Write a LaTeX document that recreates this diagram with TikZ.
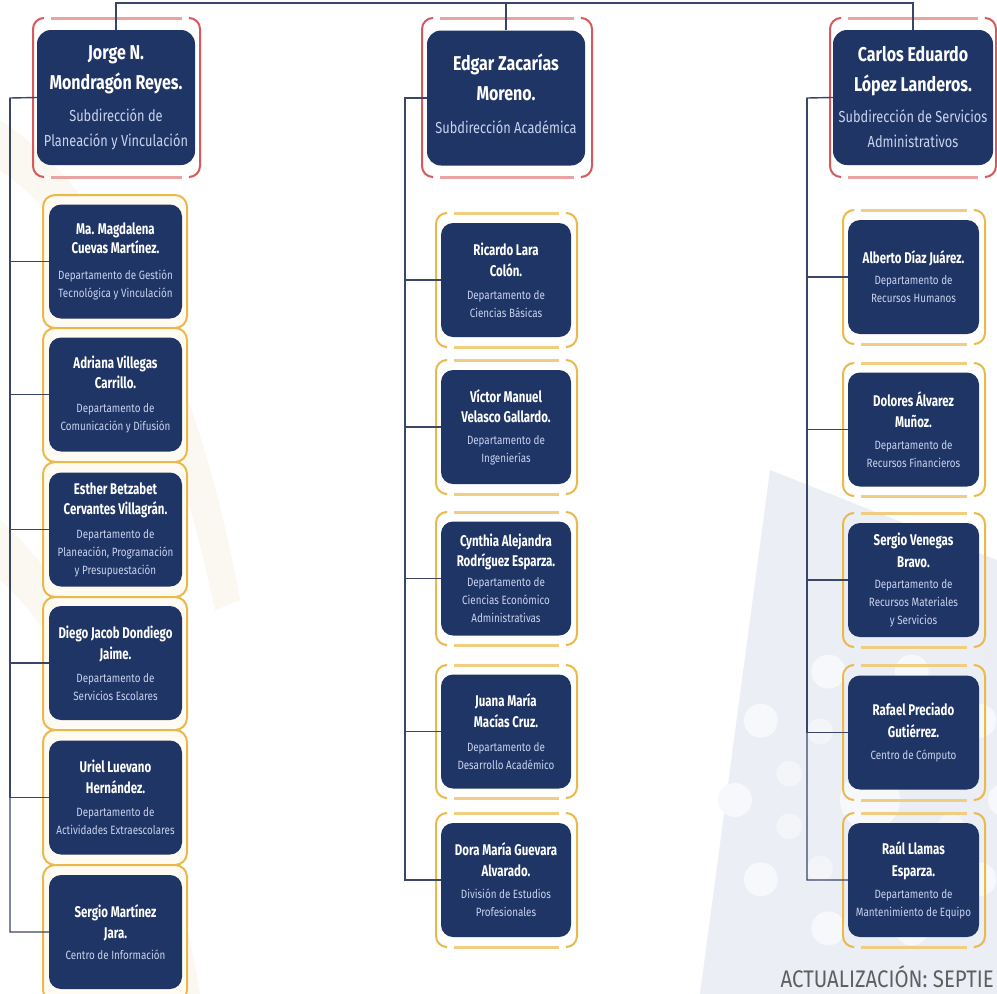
\documentclass[tikz,border=0pt]{standalone}
\usepackage{fontspec}
\usetikzlibrary{calc}
\setmainfont{Fira Sans}
\newfontfamily\hf{Fira Sans}[FakeStretch=0.8]
\newfontfamily\cfn{Fira Sans}[FakeStretch=0.74]
\newfontfamily\cfd{Fira Sans}[FakeStretch=0.82]
\newfontfamily\ftf{Fira Sans}[FakeStretch=0.85]
\definecolor{navy}{HTML}{1F3566}
\definecolor{deptc}{HTML}{C9D3EE}
\definecolor{redb}{HTML}{D45A5C}
\definecolor{redl}{HTML}{E8A3A3}
\definecolor{goldb}{HTML}{E9B94C}
\definecolor{goldl}{HTML}{F0CD80}
\definecolor{linec}{HTML}{3A4568}
\definecolor{bgblue}{HTML}{ECEEF5}
\definecolor{bgbeige}{HTML}{FBF8F1}
\definecolor{creamf}{HTML}{FFFBF3}
\definecolor{foot}{HTML}{5F5F5F}
\newcommand\hname[1]{{\color{white}\hf\bfseries\fontsize{20}{25}\selectfont #1}}
\newcommand\cname[1]{{\color{white}\cfn\bfseries\fontsize{15.5}{18}\selectfont #1}}
\newcommand\bframe[6]{%
 \draw[#5,line width=2pt,rounded corners=11pt] (#1+10,#2)--(#1,#2)--(#1,#4)--(#1+10,#4);
 \draw[#5,line width=2pt,rounded corners=11pt] (#3-10,#2)--(#3,#2)--(#3,#4)--(#3-10,#4);
 \draw[#6,line width=3pt] (#1+18,#2)--(#3-18,#2);
 \draw[#6,line width=3pt] (#1+18,#4)--(#3-18,#4);
}
\tikzset{
 headbox/.style={fill=navy, rounded corners=14pt, minimum width=158pt, minimum height=135pt,
   text=deptc, align=center, inner sep=0pt, font=\hf\fontsize{16}{25}\selectfont},
 childbox/.style={fill=navy, rounded corners=12pt, minimum width=131pt, minimum height=114pt,
   text=deptc, align=center, inner sep=0pt, font=\cfd\fontsize{12}{18}\selectfont},
 conn/.style={draw=linec, line width=1.4pt},
 lframe/.style={draw=goldb, fill=creamf, line width=2pt, rounded corners=12pt},
}
\begin{document}
\begin{tikzpicture}[x=1pt,y=-1pt]
\useasboundingbox (0,0) rectangle (997,994);
\clip (0,0) rectangle (997,994);
\fill[white] (0,0) rectangle (997,994);
% background watermarks
\fill[bgbeige] (0,120) .. controls (120,200) and (200,380) .. (240,600) -- (215,610) .. controls (170,400) and (100,240) .. (0,170) -- cycle;
\fill[bgbeige] (0,520) .. controls (90,600) and (160,760) .. (200,994) -- (170,994) .. controls (130,780) and (70,640) .. (0,580) -- cycle;
\fill[bgblue] (770,470) -- (997,560) -- (997,994) -- (700,994) -- cycle;
\foreach \a in {0,36,...,359}{\fill[white!60!bgblue] ($(870,800)+(\a:135)$) circle (17);}
\foreach \a in {18,54,...,359}{\fill[white!40!bgblue] ($(870,800)+(\a:85)$) circle (13);}
\fill[white!60!bgblue] (870,800) circle (30);
% heads
\node[headbox] (h1) at (116,97.5) {\hname{Jorge N.}\\[5pt]\hname{Mondragón Reyes.}\\[7pt]Subdirección de\\Planeación y Vinculación};
\node[headbox] (h2) at (506,98) {\hname{Edgar Zacarías}\\[5pt]\hname{Moreno.}\\[8pt]Subdirección Académica\\[-16pt]\mbox{}};
\node[headbox, minimum width=160pt] (h3) at (913,97.5) {\hname{Carlos Eduardo}\\[5pt]\hname{López Landeros.}\\[6pt]Subdirección de Servicios\\Administrativos};
% head frames
\bframe{33}{18}{200}{177}{redb}{redl}
\bframe{422}{18}{592}{177}{redb}{redl}
\bframe{830}{18}{996}{177}{redb}{redl}
% left column frames
\draw[lframe] (43,195) rectangle (187,328);
\draw[lframe] (43,328) rectangle (187,462);
\draw[lframe] (43,462) rectangle (187,597);
\draw[lframe] (43,597) rectangle (187,730);
\draw[lframe] (43,730) rectangle (187,865);
\draw[lframe] (43,865) rectangle (187,1002);
% middle frames
\bframe{436}{213}{577}{347}{goldb}{goldl}
\bframe{436}{360}{577}{494}{goldb}{goldl}
\bframe{436}{512}{577}{645}{goldb}{goldl}
\bframe{436}{665}{577}{798}{goldb}{goldl}
\bframe{436}{813}{577}{947}{goldb}{goldl}
% right frames
\bframe{843}{210}{985}{344}{goldb}{goldl}
\bframe{843}{363}{985}{496}{goldb}{goldl}
\bframe{843}{513}{985}{647}{goldb}{goldl}
\bframe{843}{665}{985}{800}{goldb}{goldl}
\bframe{843}{813}{985}{947}{goldb}{goldl}
% left children
\node[childbox, minimum width=133pt] (lc1) at (115.5,261.5) {\cname{Ma. Magdalena}\\[1pt]\cname{Cuevas Martínez.}\\[8pt]Departamento de Gestión\\Tecnológica y Vinculación};
\node[childbox, minimum width=133pt] (lc2) at (115.5,394.5) {\cname{Adriana Villegas}\\[2pt]\cname{Carrillo.}\\[6pt]Departamento de\\Comunicación y Difusión};
\node[childbox, minimum width=133pt] (lc3) at (115.5,529.5) {\cname{Esther Betzabet}\\[2pt]\cname{Cervantes Villagrán.}\\[6pt]Departamento de\\Planeación, Programación\\y Presupuestación};
\node[childbox, minimum width=133pt] (lc4) at (115.5,663) {\cname{Diego Jacob Dondiego}\\[3pt]\cname{Jaime.}\\[5pt]Departamento de\\Servicios Escolares};
\node[childbox, minimum width=133pt] (lc5) at (115.5,797.5) {\cname{Uriel Luevano}\\[3pt]\cname{Hernández.}\\[5pt]Departamento de\\Actividades Extraescolares};
\node[childbox, minimum width=133pt] (lc6) at (115.5,932) {\cname{Sergio Martínez}\\[3pt]\cname{Jara.}\\[3pt]Centro de Información};
% middle children
\node[childbox, minimum width=130pt] (mc1) at (506,280) {\cname{Ricardo Lara}\\[3pt]\cname{Colón.}\\[5pt]Departamento de\\Ciencias Básicas};
\node[childbox, minimum width=130pt] (mc2) at (506,427) {\cname{Víctor Manuel}\\[2pt]\cname{Velasco Gallardo.}\\[4pt]Departamento de\\Ingenierías};
\node[childbox, minimum width=130pt] (mc3) at (506,578.5) {\cname{Cynthia Alejandra}\\[2pt]\cname{Rodríguez Esparza.}\\[2pt]Departamento de\\Ciencias Económico\\Administrativas};
\node[childbox, minimum width=130pt] (mc4) at (506,731.5) {\cname{Juana María}\\[3pt]\cname{Macías Cruz.}\\[6pt]Departamento de\\Desarrollo Académico};
\node[childbox, minimum width=130pt] (mc5) at (506,880) {\cname{Dora María Guevara}\\[3pt]\cname{Alvarado.}\\[4pt]División de Estudios\\Profesionales};
% right children
\node[childbox] (rc1) at (913.5,277) {\cname{Alberto Díaz Juárez.}\\[3pt]Departamento de\\Recursos Humanos};
\node[childbox] (rc2) at (913.5,429.5) {\cname{Dolores Álvarez}\\[3pt]\cname{Muñoz.}\\[4pt]Departamento de\\Recursos Financieros};
\node[childbox] (rc3) at (913.5,580) {\cname{Sergio Venegas}\\[4pt]\cname{Bravo.}\\[3pt]Departamento de\\Recursos Materiales\\y Servicios};
\node[childbox] (rc4) at (913.5,732.5) {\cname{Rafael Preciado}\\[4pt]\cname{Gutiérrez.}\\[4pt]Centro de Cómputo};
\node[childbox] (rc5) at (913.5,880) {\cname{Raúl Llamas}\\[4pt]\cname{Esparza.}\\[4pt]Departamento de\\Mantenimiento de Equipo};
% connectors
\coordinate (tp) at (0,3);
\coordinate (sL) at (10,98);
\coordinate (sM) at (405,98);
\coordinate (sR) at (807,98);
\draw[conn] (h1.north) -- (h1.north |- tp) -| (h3.north);
\draw[conn] (h2.north) -- (h2.north |- tp);
\draw[conn] (h1.west) -- (sL) |- (lc6.west);
\foreach \c in {lc1,lc2,lc3,lc4,lc5} \draw[conn] (sL) |- (\c.west);
\draw[conn] (h2.west) -- (sM) |- (mc5.west);
\foreach \c in {mc1,mc2,mc3,mc4} \draw[conn] (sM) |- (\c.west);
\draw[conn] (h3.west) -- (sR) |- (rc5.west);
\foreach \c in {rc1,rc2,rc3,rc4} \draw[conn] (sR) |- (\c.west);
% footer
\node[anchor=base east, inner sep=0pt, text=foot, font=\ftf\fontsize{24}{24}\selectfont] (ft) at (994,987) {ACTUALIZACIÓN: SEPTIE};
\end{tikzpicture}
\end{document}
